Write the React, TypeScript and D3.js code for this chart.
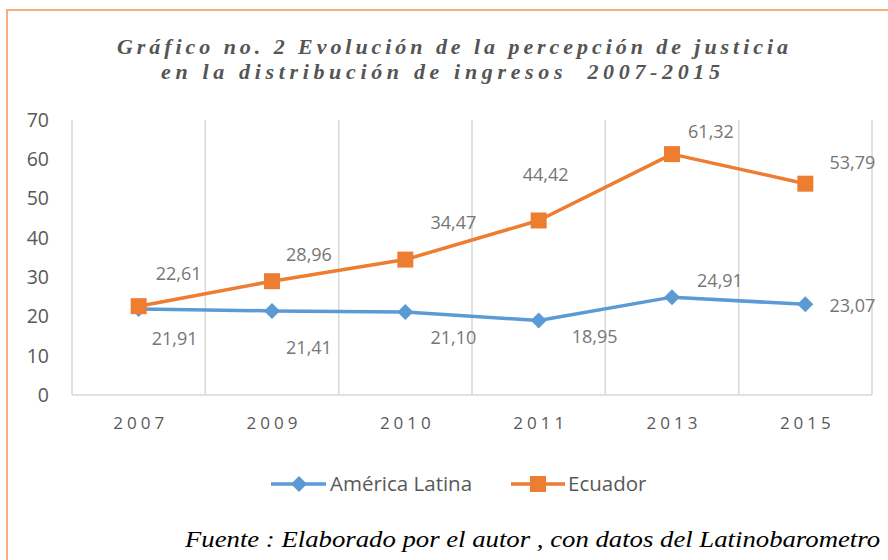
import React from "react";
import * as d3 from "d3";

const years = ["2007", "2009", "2010", "2011", "2013", "2015"];
const americaLatina = [21.91, 21.41, 21.1, 18.95, 24.91, 23.07];
const ecuador = [22.61, 28.96, 34.47, 44.42, 61.32, 53.79];
const yTicks = [0, 10, 20, 30, 40, 50, 60, 70];
const titleLines = [
  "Gráfico no. 2 Evolución de la percepción de justicia",
  "en la distribución de ingresos  2007-2015",
];
const seriesNames = ["América Latina", "Ecuador"];
const sourceText = "Fuente : Elaborado por el autor , con datos del Latinobarometro";

// label offsets (style) relative to marker
const ecuadorLabelOffsets = [
  [40, -32], [37, -27], [48, -37], [7, -46], [39, -22], [47, -21],
];
const latamLabelOffsets = [
  [36, 30], [37, 37], [48, 26], [56, 16], [48, -16], [47, 1],
];

const W = 888;
const H = 560;
const BLUE = "#5B9BD5";
const ORANGE = "#ED7D31";
const SANS = "'Open Sans', sans-serif";
const SERIF = "'Liberation Serif', 'Times New Roman', serif";

const fmt = (v: number) => v.toFixed(2).replace(".", ",");

export default function App() {
  const x = d3.scaleBand<string>().domain(years).range([72, 872]);
  const y = d3.scaleLinear().domain([0, 70]).range([395, 120]);
  const cx = (d: string) => (x(d) as number) + x.bandwidth() / 2;
  const line = d3
    .line<number>()
    .x((_, i) => cx(years[i]))
    .y((v) => y(v));
  const diamond = (s: number) => `M0,${-s}L${s},0L0,${s}L${-s},0Z`;
  const gridXs = years.map((d) => x(d) as number).concat([872]);
  const titleLayout = [
    { x: 117, y: 54, len: 671 },
    { x: 161, y: 79, len: 559 },
  ];

  return (
    <svg
      width={W}
      height={H}
      style={{ position: "absolute", left: 0, top: 0, background: "#fff" }}
    >
      <rect x={0} y={0} width={W} height={H} fill="#fff" />
      <rect x={7} y={10} width={W + 20} height={H + 20} fill="none" stroke="#F4B183" strokeWidth={2} />

      {titleLines.map((t, i) => (
        <text
          key={i}
          x={titleLayout[i].x}
          y={titleLayout[i].y}
          textLength={titleLayout[i].len}
          lengthAdjust="spacing"
          fontFamily={SERIF}
          fontStyle="italic"
          fontWeight="bold"
          fontSize={22}
          fill="#555555"
          style={{ whiteSpace: "pre" }}
        >
          {t}
        </text>
      ))}

      {gridXs.map((gx, i) => (
        <line key={i} x1={gx} x2={gx} y1={y(70)} y2={y(0)} stroke="#D9D9D9" strokeWidth={1.5} />
      ))}
      <line x1={72} x2={872} y1={y(0)} y2={y(0)} stroke="#D9D9D9" strokeWidth={1.5} />

      {yTicks.map((t) => (
        <text
          key={t}
          x={49}
          y={y(t)}
          dy="0.35em"
          textAnchor="end"
          fontFamily={SANS}
          fontSize={19.5}
          fill="#595959"
        >
          {t}
        </text>
      ))}

      {years.map((yr) => (
        <text
          key={yr}
          x={cx(yr) + 2}
          y={423}
          dy="0.35em"
          textAnchor="middle"
          fontFamily={SANS}
          fontSize={17}
          letterSpacing={4}
          fill="#595959"
        >
          {yr}
        </text>
      ))}

      <path d={line(americaLatina) || ""} fill="none" stroke={BLUE} strokeWidth={3.5} strokeLinejoin="round" />
      {americaLatina.map((v, i) => (
        <path key={i} d={diamond(8)} transform={`translate(${cx(years[i])},${y(v)})`} fill={BLUE} />
      ))}
      <path d={line(ecuador) || ""} fill="none" stroke={ORANGE} strokeWidth={3.5} strokeLinejoin="round" />
      {ecuador.map((v, i) => (
        <rect key={i} x={cx(years[i]) - 8} y={y(v) - 8} width={16} height={16} fill={ORANGE} />
      ))}

      {americaLatina.map((v, i) => (
        <text
          key={"l" + i}
          x={cx(years[i]) + latamLabelOffsets[i][0]}
          y={y(v) + latamLabelOffsets[i][1]}
          dy="0.35em"
          textAnchor="middle"
          fontFamily={SANS}
          fontSize={18}
          fill="#767676"
        >
          {fmt(v)}
        </text>
      ))}
      {ecuador.map((v, i) => (
        <text
          key={"e" + i}
          x={cx(years[i]) + ecuadorLabelOffsets[i][0]}
          y={y(v) + ecuadorLabelOffsets[i][1]}
          dy="0.35em"
          textAnchor="middle"
          fontFamily={SANS}
          fontSize={18}
          fill="#767676"
        >
          {fmt(v)}
        </text>
      ))}

      {/* legend */}
      <g>
        <line x1={271} x2={326} y1={484} y2={484} stroke={BLUE} strokeWidth={3.5} />
        <path d={diamond(8)} transform="translate(299,484)" fill={BLUE} />
        <text x={330} y={484} dy="0.35em" fontFamily={SANS} fontSize={20.5} fill="#595959">
          {seriesNames[0]}
        </text>
        <line x1={511} x2={565} y1={484} y2={484} stroke={ORANGE} strokeWidth={3.5} />
        <rect x={530} y={476} width={16} height={16} fill={ORANGE} />
        <text x={568} y={484} dy="0.35em" fontFamily={SANS} fontSize={20.5} fill="#595959">
          {seriesNames[1]}
        </text>
      </g>

      <text
        x={185}
        y={547}
        textLength={695}
        lengthAdjust="spacingAndGlyphs"
        fontFamily={SERIF}
        fontStyle="italic"
        fontSize={23}
        fill="#000"
      >
        {sourceText}
      </text>
    </svg>
  );
}
